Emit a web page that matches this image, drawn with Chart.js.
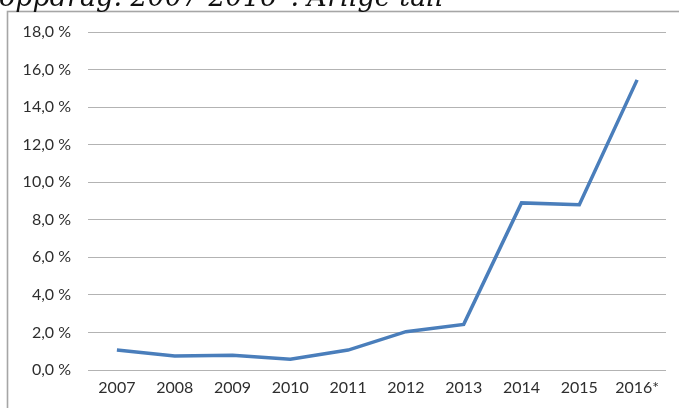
<!DOCTYPE html>
<html>
<head>
<meta charset="utf-8">
<script src="https://cdn.jsdelivr.net/npm/chart.js@4"></script>
<style>
html,body{margin:0;padding:0;background:#fff;}
#wrap{position:relative;width:679px;height:408px;}
canvas{display:block;}
</style>
</head>
<body>
<div id="wrap"><canvas id="c" width="679" height="408"></canvas></div>
<script>
const titleText = "oppdrag. 2007-2016*. Årlige tall";
const categories = ["2007","2008","2009","2010","2011","2012","2013","2014","2015","2016*"];
const shareValues = [1.06, 0.75, 0.78, 0.57, 1.06, 2.04, 2.43, 8.9, 8.8, 15.45];

const frame = {
  id: 'frame',
  beforeDraw(chart) {
    const ctx = chart.ctx;
    ctx.save();
    ctx.fillStyle = '#fff';
    ctx.fillRect(0, 0, chart.width, chart.height);
    ctx.strokeStyle = '#a6a6a6';
    ctx.lineWidth = 1.6;
    ctx.strokeRect(7.5, 11.5, 720, 500);
    ctx.fillStyle = '#111';
    ctx.font = 'italic 27px "DejaVu Serif"';
    ctx.textBaseline = 'alphabetic';
    ctx.fillText(titleText, -1, 6);
    ctx.restore();
  }
};

new Chart(document.getElementById('c'), {
  type: 'line',
  data: {
    labels: categories,
    datasets: [{
      data: shareValues,
      borderColor: '#4a7ebb',
      borderWidth: 3.5,
      pointRadius: 0,
      tension: 0,
      fill: false
    }]
  },
  options: {
    responsive: false,
    animation: false,
    devicePixelRatio: 1,
    layout: { padding: { left: 0, right: 13, top: 32, bottom: 0 } },
    plugins: { legend: { display: false }, tooltip: { enabled: false }, title: { display: false } },
    scales: {
      x: {
        offset: true,
        grid: { display: false, drawTicks: false },
        border: { display: false },
        ticks: { color: '#2e2e2e', font: { family: 'Lato', size: 16 }, padding: 8, maxRotation: 0, autoSkip: false },
        afterFit(s) { s.height = 38; }
      },
      y: {
        min: 0, max: 18,
        grid: { color: '#b3b3b3', lineWidth: 1, drawTicks: false },
        border: { display: false },
        ticks: {
          stepSize: 2,
          color: '#2e2e2e',
          font: { family: 'Lato', size: 16 },
          padding: 17,
          callback: v => v.toFixed(1).replace('.', ',') + ' %'
        },
        afterFit(s) { s.width = 88; }
      }
    }
  },
  plugins: [frame]
});
</script>
</body>
</html>
